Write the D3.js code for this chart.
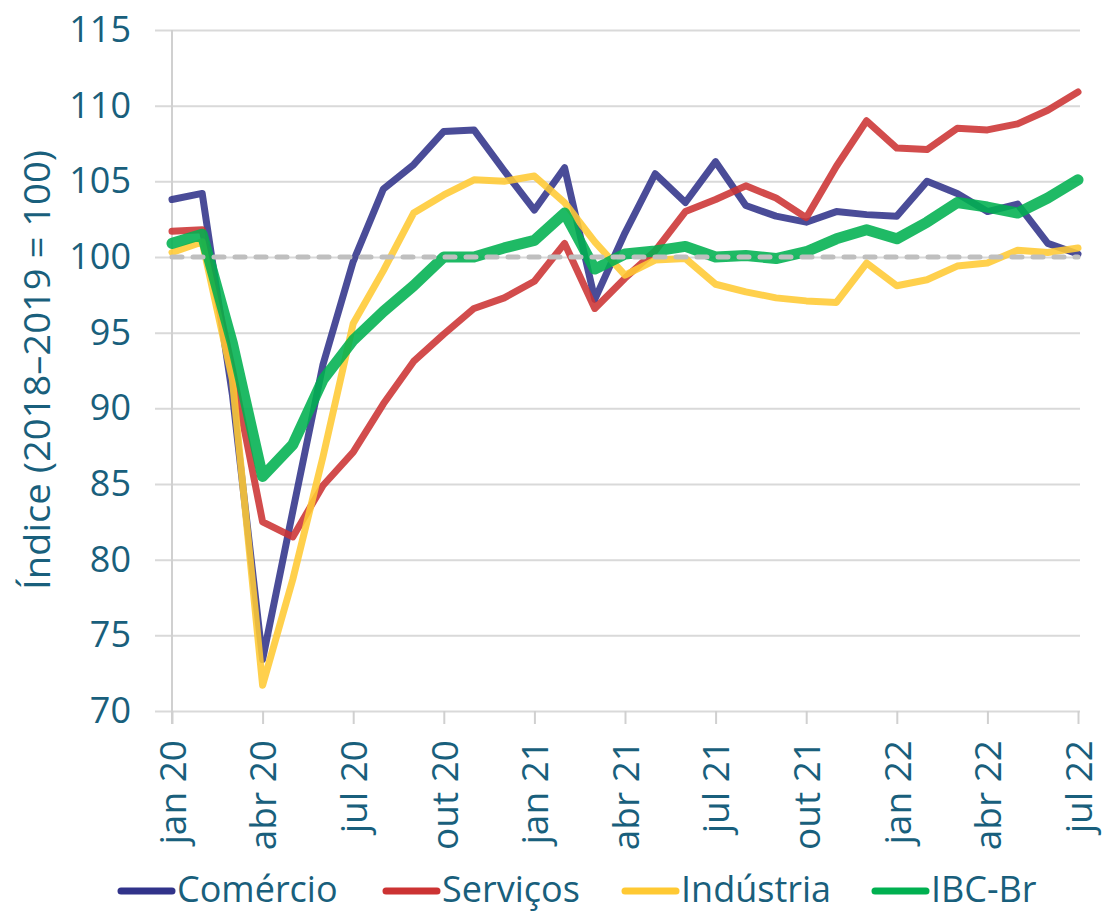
<!DOCTYPE html>
<html>
<head>
<meta charset="utf-8">
<script src="https://cdn.jsdelivr.net/npm/d3@7"></script>
<style>
  body { margin: 0; background: #fff; }
  text { font-family: "Open Sans", sans-serif; fill: #195f7c; }
</style>
</head>
<body>
<div id="chart"></div>
<script>
// months jan 20 .. jul 22
const months = ["jan 20","fev 20","mar 20","abr 20","mai 20","jun 20","jul 20","ago 20","set 20","out 20","nov 20","dez 20",
  "jan 21","fev 21","mar 21","abr 21","mai 21","jun 21","jul 21","ago 21","set 21","out 21","nov 21","dez 21",
  "jan 22","fev 22","mar 22","abr 22","mai 22","jun 22","jul 22"];
const tickMonths = ["jan 20","abr 20","jul 20","out 20","jan 21","abr 21","jul 21","out 21","jan 22","abr 22","jul 22"];
const yTicks = [70, 75, 80, 85, 90, 95, 100, 105, 110, 115];

const comercio = [103.8,104.2,90.9,73.4,83.2,92.9,99.7,104.5,106.1,108.3,108.4,105.7,
  103.1,105.9,97.2,101.6,105.5,103.6,106.3,103.4,102.7,102.3,103.0,102.8,
  102.7,105.0,104.2,103.0,103.5,100.9,100.2];
const servicos = [101.7,101.8,92.6,82.5,81.5,84.9,87.1,90.3,93.1,94.9,96.6,97.3,
  98.4,100.9,96.6,98.6,100.4,103.0,103.8,104.7,103.9,102.6,106.0,109.0,
  107.2,107.1,108.5,108.4,108.8,109.7,110.9];
const industria = [100.3,101.0,91.9,71.7,78.7,86.8,95.6,99.1,102.9,104.1,105.1,105.0,
  105.35,103.6,101.0,98.8,99.8,99.9,98.2,97.7,97.3,97.1,97.0,99.6,
  98.1,98.5,99.4,99.6,100.45,100.3,100.6];
const ibc = [100.9,101.5,94.3,85.5,87.6,91.9,94.5,96.4,98.1,100.0,100.0,100.6,
  101.1,102.9,99.2,100.2,100.4,100.7,100.0,100.1,99.9,100.35,101.2,101.8,
  101.2,102.3,103.6,103.3,102.9,103.9,105.1];
const baseline = 100;

const seriesNames = ["Comércio","Serviços","Indústria","IBC-Br"];
const seriesValues = [comercio, servicos, industria, ibc];
const seriesColors = ["#31338a","#cc3333","#ffc933","#00b050"];
const seriesWidths = [7, 7, 7, 11];

const W = 1102, H = 914;
const plotLeft = 172, plotRight = 1078, plotTop = 30, plotBottom = 711;

const svg = d3.select("#chart").append("svg").attr("width", W).attr("height", H);

const x = d3.scalePoint().domain(months).range([plotLeft, plotRight]);
const y = d3.scaleLinear().domain([70, 115]).range([plotBottom, plotTop]);

// grid + y ticks
svg.append("g")
  .attr("transform", `translate(${plotLeft},0)`)
  .call(d3.axisLeft(y).tickValues(yTicks).tickSize(17).tickPadding(24))
  .call(g => g.select(".domain").remove())
  .call(g => g.selectAll(".tick line").attr("stroke", "#d9d9d9").attr("stroke-width", 2)
    .attr("x2", plotRight + 2 - plotLeft).attr("x1", -17))
  .call(g => g.selectAll(".tick text").attr("font-size", 36).attr("fill", "#195f7c")
    .attr("font-family", "Open Sans, sans-serif"));

// vertical axis line
svg.append("line").attr("x1", plotLeft).attr("x2", plotLeft).attr("y1", plotTop).attr("y2", plotBottom + 13)
  .attr("stroke", "#d0d0d0").attr("stroke-width", 2);

// x axis
svg.append("g")
  .attr("transform", `translate(0,${plotBottom})`)
  .call(d3.axisBottom(x).tickValues(tickMonths).tickSize(13).tickPadding(0))
  .call(g => g.select(".domain").remove())
  .call(g => g.selectAll(".tick line").attr("stroke", "#d0d0d0").attr("stroke-width", 2))
  .call(g => g.selectAll(".tick text")
    .attr("font-size", 37).attr("fill", "#195f7c").attr("font-family", "Open Sans, sans-serif")
    .attr("text-anchor", "end").attr("transform", "translate(0,29) rotate(-90)")
    .attr("x", 0).attr("y", 0).attr("dy", "0.36em"));

// series lines
const line = d3.line().x((d, i) => x(months[i])).y(d => y(d));
seriesValues.forEach((vals, k) => {
  svg.append("path")
    .datum(vals)
    .attr("d", line)
    .attr("fill", "none")
    .attr("stroke", seriesColors[k])
    .attr("stroke-width", seriesWidths[k])
    .attr("stroke-opacity", 0.88)
    .attr("stroke-linejoin", "round")
    .attr("stroke-linecap", "round");
});

// reference line at 100
svg.append("line")
  .attr("x1", plotLeft).attr("x2", plotRight)
  .attr("y1", y(baseline)).attr("y2", y(baseline))
  .attr("stroke", "#bfbfbf").attr("stroke-width", 5)
  .attr("stroke-dasharray", "10,11").attr("stroke-linecap", "round");

// y title
svg.append("text")
  .attr("transform", "translate(50,370) rotate(-90)")
  .attr("text-anchor", "middle")
  .attr("font-size", 37)
  .attr("textLength", 440)
  .attr("lengthAdjust", "spacingAndGlyphs")
  .text("Índice (2018–2019 = 100)");

// legend
const legendX = [118, 383, 622, 872];
const legend = svg.append("g");
seriesNames.forEach((name, k) => {
  legend.append("line")
    .attr("x1", legendX[k] + 3).attr("x2", legendX[k] + 54)
    .attr("y1", 891).attr("y2", 891)
    .attr("stroke", seriesColors[k]).attr("stroke-width", 7).attr("stroke-linecap", "round");
  legend.append("text")
    .attr("x", legendX[k] + 59).attr("y", 902)
    .attr("font-size", 36)
    .text(name);
});
</script>
</body>
</html>
